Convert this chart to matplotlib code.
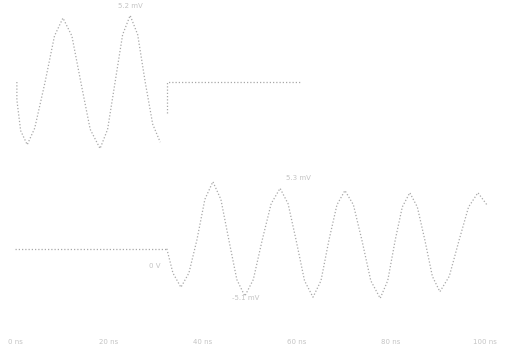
"""
Two scope traces: a burst that stops, and a flat line that starts to ring.
"""

import numpy as np
import matplotlib.pyplot as plt

# time in ns, level in mV
top_t = [0.4, 0.4, 1.2, 2.6, 4.2, 6.4, 8.4, 10.2, 12.1, 14.0, 16.0, 18.1, 19.7,
         21.3, 22.9, 24.5, 26.1, 27.7, 29.3, 30.9]
top_v = [0.0, -1.4, -3.8, -4.9, -3.6, 0.0, 3.6, 5.0, 3.6, 0.0, -3.7, -5.2, -3.7,
         0.0, 3.7, 5.2, 3.7, 0.0, -3.3, -4.7]
step_t = [32.3, 32.3, 60.6]
step_v = [-2.4, 0.0, 0.0]

flat_t = [0.0, 32.3]
flat_v = [-0.8, -0.8]
bot_t = [32.3, 33.6, 35.3, 37.0, 38.7, 40.4, 42.1, 43.8, 45.5, 47.2, 48.9, 50.7,
         52.6, 54.5, 56.4, 58.1, 59.8, 61.6, 63.4, 65.1, 66.8, 68.5, 70.2, 72.0,
         73.8, 75.7, 77.7, 79.3, 80.9, 82.4, 84.0, 85.6, 87.2, 88.8, 90.4, 92.4,
         94.5, 96.5, 98.5, 100.4]
bot_v = [-0.8, -3.0, -4.3, -3.0, 0.0, 3.7, 5.3, 3.7, 0.0, -3.6, -5.1, -3.6,
         0.0, 3.3, 4.7, 3.3, 0.0, -3.7, -5.2, -3.7, 0.0, 3.2, 4.5, 3.2,
         0.0, -3.7, -5.3, -3.7, 0.0, 3.0, 4.3, 3.0, 0.0, -3.3, -4.7, -3.3,
         0.0, 3.0, 4.3, 3.2]

tick_pos = [0, 20, 40, 60, 80, 100]
tick_labels = ['0 ns', '20 ns', '40 ns', '60 ns', '80 ns', '100 ns']

line_col = '#a8a8a8'
text_col = '#c4c4c4'
font_size = 5
dots = (0, (1, 1.6))

fig = plt.figure(figsize=(5.05, 3.47), dpi=100)
H = 347.0
ax_top = fig.add_axes([0, 1 - 160 / H, 1, 160 / H])
ax_bot = fig.add_axes([0, 1 - 333 / H, 1, (333 - 165) / H])

xlim = (-15 / 4.7, 490 / 4.7)

ax_top.plot(top_t, top_v, color=line_col, linestyle=dots, linewidth=0.9)
ax_top.plot(step_t, step_v, color=line_col, linestyle=dots, linewidth=0.9)
ax_top.set_xlim(xlim)
ax_top.set_ylim(-78 / 12.8, 82 / 12.8)
ax_top.text(24.5, 5.9, '5.2 mV', color=text_col, fontsize=font_size,
            ha='center', va='center')

ax_bot.plot(flat_t, flat_v, color=line_col, linestyle=dots, linewidth=0.9)
ax_bot.plot(bot_t, bot_v, color=line_col, linestyle=dots, linewidth=0.9)
ax_bot.set_xlim(xlim)
ax_bot.set_ylim(-93 / 11, 75 / 11)
ax_bot.text(60.2, 5.6, '5.3 mV', color=text_col, fontsize=font_size,
            ha='center', va='center')
ax_bot.text(29.8, -2.4, '0 V', color=text_col, fontsize=font_size,
            ha='center', va='center')
ax_bot.text(49.1, -5.3, '-5.1 mV', color=text_col, fontsize=font_size,
            ha='center', va='center')

for ax in (ax_top, ax_bot):
    for s in ax.spines.values():
        s.set_visible(False)
    ax.set_yticks([])
    ax.patch.set_alpha(0)

ax_top.set_xticks([])
ax_bot.set_xticks(tick_pos)
ax_bot.set_xticklabels(tick_labels)
ax_bot.tick_params(axis='x', length=0, pad=4, labelsize=font_size,
                   labelcolor=text_col)

fig.savefig('out.png', dpi=100)
